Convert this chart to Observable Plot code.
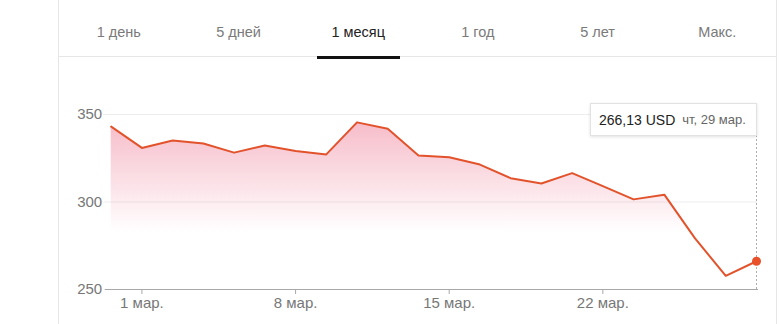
<!DOCTYPE html>
<html>
<head>
<meta charset="utf-8">
<script src="https://cdn.jsdelivr.net/npm/d3@7"></script>
<script src="https://cdn.jsdelivr.net/npm/@observablehq/plot@0.6"></script>
<style>
  html, body { margin: 0; padding: 0; background: #fff; }
  #wrap { position: relative; width: 780px; height: 324px; overflow: hidden; font-family: Arial, "Liberation Sans", sans-serif; background: #fff; }
  .vborder { position: absolute; top: 0; width: 1px; height: 324px; background: #e6e6e6; }
  #tabs { position: absolute; top: 0; left: 59px; width: 718px; height: 56px; border-bottom: 1px solid #e6e6e6; display: flex; }
  #tabs div { flex: 1; text-align: center; font-size: 14.5px; color: #7a7a7a; padding-top: 24px; line-height: 17px; }
  #tabs div.active { color: #222; }
  #underline { position: absolute; top: 56px; left: 317px; width: 83px; height: 3px; background: #111; }
  #chart { position: absolute; top: 59px; left: 0; }
  #tip { position: absolute; background: #fff; border: 1px solid #e2e2e2; box-shadow: 0 1px 3px rgba(0,0,0,0.12); display: flex; align-items: center; box-sizing: border-box; white-space: nowrap; }
  #tip .v { font-size: 14px; color: #222; margin-left: 8px; }
  #tip .d { font-size: 13px; color: #666; margin-left: 7px; }
</style>
</head>
<body>
<div id="wrap">
  <div class="vborder" style="left:58px"></div>
  <div class="vborder" style="left:776px"></div>
  <div id="tabs"></div>
  <div id="underline"></div>
  <div id="chart"></div>
</div>
<script>
const tabLabels = ["1 день", "5 дней", "1 месяц", "1 год", "5 лет", "Макс."];
const activeTab = "1 месяц";

const days = ["2018-02-28","2018-03-01","2018-03-02","2018-03-05","2018-03-06","2018-03-07","2018-03-08","2018-03-09",
              "2018-03-12","2018-03-13","2018-03-14","2018-03-15","2018-03-16","2018-03-19","2018-03-20","2018-03-21",
              "2018-03-22","2018-03-23","2018-03-26","2018-03-27","2018-03-28","2018-03-29"];
const prices = [343.1, 330.9, 335.1, 333.4, 328.2, 332.3, 329.1, 327.2, 345.5, 341.8, 326.6, 325.6,
                321.4, 313.6, 310.6, 316.5, 309.1, 301.5, 304.2, 279.2, 257.8, 266.13];
const xTickDays = ["2018-03-01", "2018-03-08", "2018-03-15", "2018-03-22"];
const xTickLabels = ["1 мар.", "8 мар.", "15 мар.", "22 мар."];
const yTicks = [250, 300, 350];
const tipValue = "266,13 USD";
const tipDate = "чт, 29 мар.";

const tabs = document.getElementById("tabs");
tabLabels.forEach(t => {
  const d = document.createElement("div");
  d.textContent = t;
  if (t === activeTab) d.className = "active";
  tabs.appendChild(d);
});

// trading-day index on x (the chart skips weekends)
const data = days.map((d, i) => ({i, date: d, price: prices[i]}));
const last = data[data.length - 1];
const xTickIdx = xTickDays.map(d => days.indexOf(d));

const lineColor = "#e2532c";

const plot = Plot.plot({
  width: 780,
  height: 265,
  marginLeft: 110.7,
  marginRight: 24,
  marginTop: 55,
  marginBottom: 35,
  style: {fontFamily: "Arial, 'Liberation Sans', sans-serif", fontSize: "15px", color: "#888", background: "transparent"},
  x: {type: "linear", domain: [0, days.length - 1]},
  y: {domain: [yTicks[0], yTicks[yTicks.length - 1]]},
  marks: [
    Plot.ruleY(yTicks.slice(1), {stroke: "#ededed", insetLeft: -7.5, insetRight: -1}),
    Plot.areaY(data, {x: "i", y1: yTicks[0], y2: "price", fill: "url(#areaGrad)"}),
    Plot.ruleY([yTicks[0]], {stroke: "#a8a8a8", insetLeft: -6, insetRight: -2}),
    Plot.ruleX([last], {x: "i", stroke: "#b0b0b0", strokeDasharray: "2,2", insetTop: 21}),
    Plot.lineY(data, {x: "i", y: "price", stroke: lineColor, strokeWidth: 2}),
    Plot.dot([last], {x: "i", y: "price", r: 4.5, fill: "#e8512a", stroke: "none"}),
    Plot.axisX({ticks: xTickIdx, tickFormat: i => xTickLabels[xTickIdx.indexOf(i)], tickSize: 5, tickPadding: 3,
                stroke: "#a8a8a8", fill: "#777", fontSize: 15, label: null}),
    Plot.axisY({ticks: yTicks, tickSize: 0, tickPadding: 9, fill: "#777", fontSize: 15, label: null})
  ]
});

const svg = d3.select(plot);
const defs = svg.insert("defs", ":first-child");
const grad = defs.append("linearGradient").attr("id", "areaGrad")
  .attr("x1", 0).attr("y1", 0).attr("x2", 0).attr("y2", 1);
grad.append("stop").attr("offset", 0).attr("stop-color", "#ee7f98").attr("stop-opacity", 0.52);
grad.append("stop").attr("offset", 0.66).attr("stop-color", "#ee7f98").attr("stop-opacity", 0);
grad.append("stop").attr("offset", 1).attr("stop-color", "#ee7f98").attr("stop-opacity", 0);

document.getElementById("chart").appendChild(plot);

// tooltip anchored to the last point via the plot's scales
const xs = plot.scale("x");
const px = xs.apply(last.i);
const tip = document.createElement("div");
tip.id = "tip";
const chartTop = 59;
const tipW = 167, tipH = 33;
tip.style.left = (px + 1 - tipW) + "px";
tip.style.top = (chartTop + 55 - 11) + "px";
tip.style.width = tipW + "px";
tip.style.height = tipH + "px";
tip.innerHTML = `<span class="v">${tipValue}</span><span class="d">${tipDate}</span>`;
document.getElementById("wrap").appendChild(tip);
</script>
</body>
</html>
